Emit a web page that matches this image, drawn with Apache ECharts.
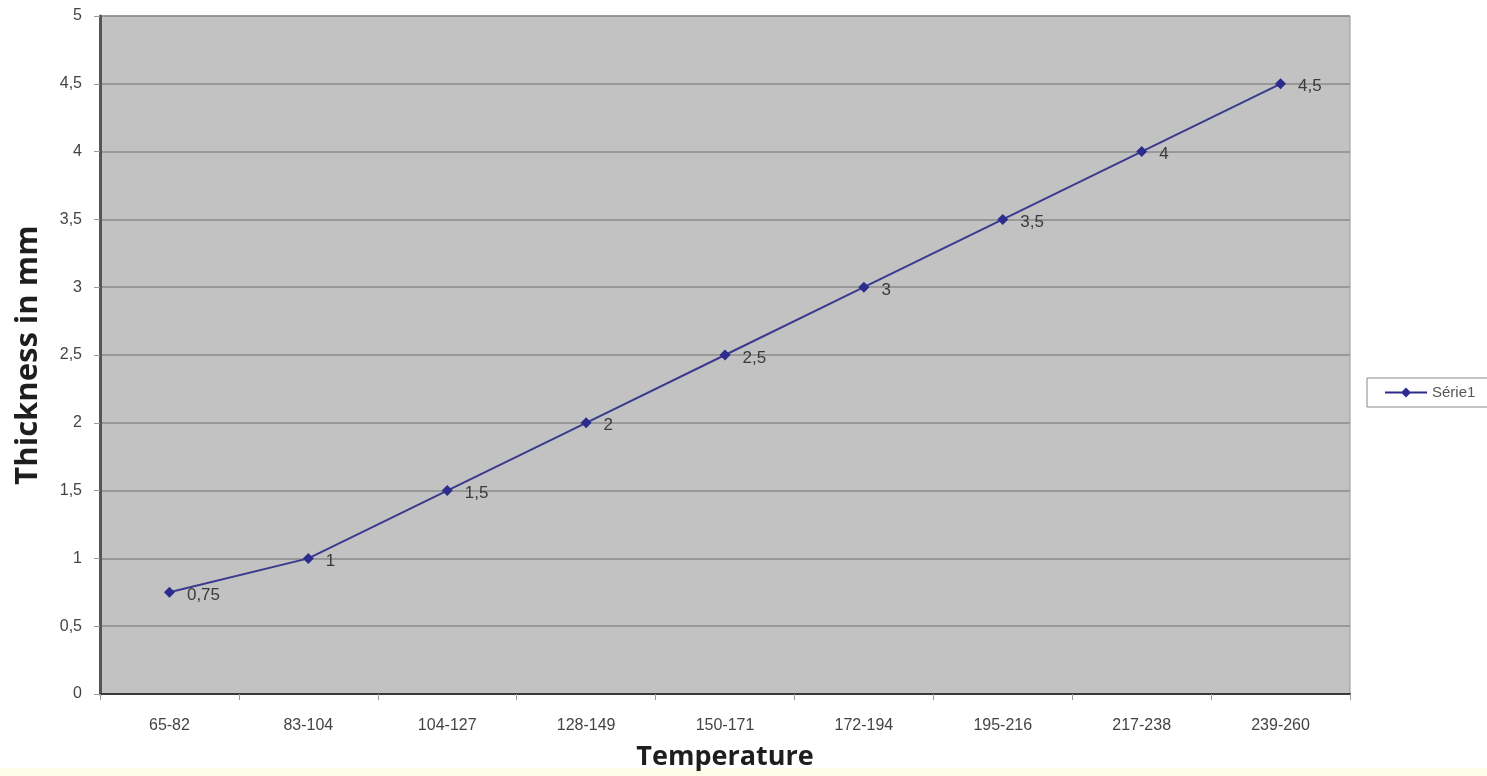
<!DOCTYPE html>
<html>
<head>
<meta charset="utf-8">
<script src="https://cdn.jsdelivr.net/npm/echarts@6/dist/echarts.min.js"></script>
<style>
html,body{margin:0;padding:0;background:#fff;}
#c{width:1487px;height:776px;}
</style>
</head>
<body>
<div id="c"></div>
<script>
const categories = ['65-82','83-104','104-127','128-149','150-171','172-194','195-216','217-238','239-260'];
const thickness = [0.75, 1, 1.5, 2, 2.5, 3, 3.5, 4, 4.5];
const seriesName = 'Série1';
const xTitle = 'Temperature';
const yTitle = 'Thickness in mm';

const comma = v => String(v).replace('.', ',');
const chart = echarts.init(document.getElementById('c'));
chart.setOption({
  backgroundColor: '#ffffff',
  animation: false,
  graphic: [{
    type: 'rect', left: 0, bottom: 0,
    shape: {width: 1487, height: 8},
    style: {fill: '#fdfde9'}, z: -1
  }],
  grid: {
    left: 100, right: 137, top: 16, bottom: 81,
    show: true, backgroundColor: '#c2c2c2', borderColor: '#9a9a9a', borderWidth: 1
  },
  legend: {
    left: 1367, top: 378,
    itemWidth: 42, itemHeight: 11, itemGap: 4,
    padding: [7, 30, 7, 18],
    borderColor: '#888', borderWidth: 1,
    backgroundColor: '#fff',
    textStyle: {fontFamily: 'Liberation Sans', fontSize: 15, color: '#555'},
    data: [{name: seriesName, icon: 'path://M0,4 L17,4 L21,0 L25,4 L42,4 L42,6 L25,6 L21,10 L17,6 L0,6 Z'}]
  },
  xAxis: {
    type: 'category',
    data: categories,
    boundaryGap: true,
    name: xTitle,
    nameLocation: 'middle',
    nameGap: 50,
    nameTextStyle: {fontFamily: 'Open Sans', fontWeight: 'bold', fontSize: 27, color: '#1e1e1e'},
    axisLine: {lineStyle: {color: '#3a3a3a', width: 2}},
    axisTick: {show: true, length: 6, lineStyle: {color: '#9a9a9a'}},
    axisLabel: {fontFamily: 'Liberation Sans', fontSize: 16, color: '#444', margin: 24}
  },
  yAxis: {
    type: 'value',
    min: 0, max: 5, interval: 0.5,
    name: yTitle,
    nameLocation: 'middle',
    nameGap: 56,
    nameTextStyle: {fontFamily: 'Open Sans', fontWeight: 'bold', fontSize: 31, color: '#1e1e1e'},
    axisLine: {show: true, lineStyle: {color: '#555', width: 3}},
    axisTick: {show: true, length: 6, lineStyle: {color: '#9a9a9a'}},
    axisLabel: {fontFamily: 'Liberation Sans', fontSize: 16, color: '#444', margin: 18, formatter: v => comma(v)},
    splitLine: {lineStyle: {color: '#8a8a8a', width: 1.5}}
  },
  series: [{
    name: seriesName,
    type: 'line',
    data: thickness,
    symbol: 'diamond',
    symbolSize: 11,
    itemStyle: {color: '#2c2c8c'},
    lineStyle: {color: '#3a3a8e', width: 2},
    label: {
      show: true, position: 'right', distance: 12, offset: [0, 3],
      fontFamily: 'Liberation Sans', fontSize: 17, color: '#3a3a3a',
      formatter: p => comma(p.value)
    }
  }]
});
</script>
</body>
</html>
